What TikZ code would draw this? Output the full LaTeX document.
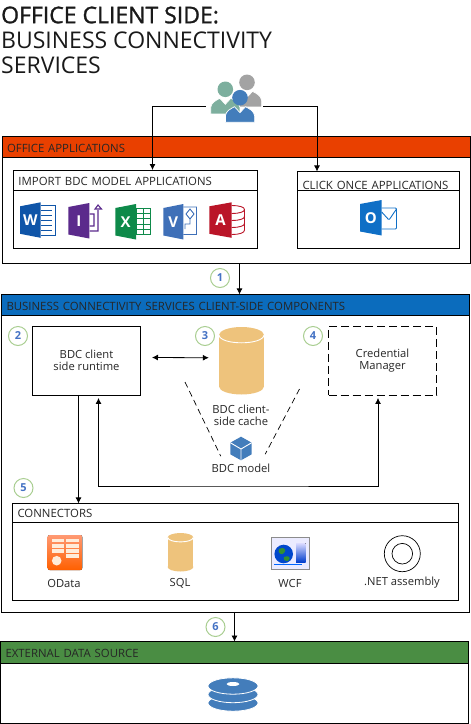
\documentclass[tikz,border=0pt]{standalone}
\usepackage{fontspec}
\setmainfont{Open Sans}
\newfontfamily\titleSemi[FakeBold=1.2]{Open Sans}
\usetikzlibrary{arrows.meta}
\definecolor{officeRed}{HTML}{E94000}
\definecolor{bcsBlue}{HTML}{0B6CBD}
\definecolor{sourceGreen}{HTML}{4A8D43}
\definecolor{cacheTan}{HTML}{EEC37C}
\definecolor{diskBlue}{HTML}{437DBB}
\definecolor{stepGreen}{HTML}{A9CE91}
\definecolor{stepBlue}{HTML}{4472C4}
\definecolor{peopleGreen}{HTML}{7DAF9E}
\definecolor{peopleGrey}{HTML}{A3A3A3}
\definecolor{wordBlue}{HTML}{0F55A8}
\definecolor{infoPurple}{HTML}{5B2A8C}
\definecolor{excelGreen}{HTML}{0E8A4A}
\definecolor{visioBlue}{HTML}{3F70B8}
\definecolor{accessRed}{HTML}{BA1528}
\definecolor{outlookBlue}{HTML}{0F6FC6}
\begin{document}
\begin{tikzpicture}
[x=1pt,y=-1pt,%
  panelDecorate/.style={shape=rectangle,draw,line width=0.9pt,inner sep=0pt,outer sep=0pt},%
  headDecorate/.style={panelDecorate,inner xsep=5pt,align=left,text=black!85,text depth=0pt,font=\fontsize{11.4}{13}\selectfont},%
  textDecorate/.style={align=center,inner sep=0pt,text=black!85,font=\fontsize{11.2}{12}\selectfont},%
  stepDecorate/.style={shape=circle,draw=stepGreen,line width=1pt,fill=white,inner sep=0pt,minimum size=19pt,text=stepBlue,font=\bfseries\fontsize{11}{11}\selectfont},%
  lineDecorate/.style={-{Latex[length=6pt,width=6pt]},line width=0.8pt},%
  tileDecorate/.style={inner sep=0pt,text=white,font=\bfseries\fontsize{15}{15}\selectfont}]
\useasboundingbox (0,0) rectangle (471,724);
%% title
\node (title) at (1,40) [anchor=west,align=left,inner sep=0pt,text=black!90,font=\fontsize{23}{25}\selectfont]
  {{\titleSemi OFFICE CLIENT SIDE:}\\BUSINESS CONNECTIVITY\\SERVICES};
%% panels and boxes
\foreach \nodename/\x/\y/\w/\h/\lab in {
  office/236/200/468/126.5/,
  import/135.5/209/244/78/,
  click/378.5/209.7/162/76.5/,
  bcs/235.5/453.2/468/317.5/,
  runtime/86.5/360.7/108/68.5/{BDC client\\side runtime},
  connectors/235.5/551.7/446/96.5/,
  external/234.5/682.3/468/81.5/}
{
  \node (\nodename) at (\x,\y) [panelDecorate,align=center,text=black!85,font=\fontsize{11.2}{12}\selectfont,minimum width=\w pt,minimum height=\h pt] {\lab};
}
\node (credential) at (382.5,360.7) [panelDecorate,dash pattern=on 8pt off 4pt,align=center,text=black!85,font=\fontsize{11.2}{12}\selectfont,minimum width=108pt,minimum height=68.5pt] {Credential\\Manager};
%% header strips
\foreach \nodename/\x/\y/\w/\h/\drop/\col/\lab in {
  officeHead/236/147/468/20.5/10/officeRed/OFFICE APPLICATIONS,
  importHead/135.5/180/244/20/10/white/IMPORT BDC MODEL APPLICATIONS,
  clickHead/378.5/181/162/19/16/white/CLICK ONCE APPLICATIONS,
  bcsHead/235.5/305/468/21/10.5/bcsBlue/BUSINESS CONNECTIVITY SERVICES CLIENT-SIDE COMPONENTS,
  connectorsHead/235.5/513/446/19/8/white/CONNECTORS,
  externalHead/234.5/652.7/468/22/10/sourceGreen/EXTERNAL DATA SOURCE}
{
  \node (\nodename) at (\x,\y) [headDecorate,fill=\col,text width=\w pt-10pt,text height=\drop pt,minimum height=\h pt] {\lab};
}
%% people
\node (people) at (234.5,106.5) [minimum width=57pt,minimum height=1pt,inner sep=0pt] {};
\foreach \px/\py/\col in {247/82.3/peopleGrey, 225.3/89.3/peopleGreen, 240/97.7/diskBlue}
{
  \fill[\col] (\px,\py) circle (7.8);
  \filldraw[\col,draw=white,line width=0.7pt] (\px-14.6,\py+24.6) -- (\px-14.6,\py+18) .. controls (\px-14,\py+13) and (\px-9,\py+11) .. (\px-5.5,\py+9) -- (\px,\py+15) -- (\px+5.5,\py+9) .. controls (\px+9,\py+11) and (\px+14,\py+13) .. (\px+14.6,\py+18) -- (\px+14.6,\py+24.6) -- cycle;
}
%% application tiles
\foreach \nodename/\x/\tw/\y/\col/\lab in {
  wordTile/20/20.7/202.3/wordBlue/W,
  infoTile/68.3/21/203/infoPurple/I,
  excelTile/115.3/20.7/204/excelGreen/X,
  visioTile/163.3/20/204/visioBlue/V,
  accessTile/209.3/22.4/202.3/accessRed/A,
  outlookTile/360/21.7/200/outlookBlue/O}
{
  \fill[\col] (\x,\y+4) -- (\x+\tw,\y) -- (\x+\tw,\y+35.5) -- (\x,\y+31.5) -- cycle;
  \node (\nodename) at (\x+\tw/2,\y+17.7) [tileDecorate] {\lab};
}
%% word page
\draw[wordBlue,line width=0.8pt] (40.7,205.5) -- (55.5,205.5) -- (55.5,235) -- (40.7,235);
\foreach \y in {210,215,220,225,230} {\draw[wordBlue,line width=0.8pt] (41,\y) -- (52,\y);}
%% infopath arrow
\draw[infoPurple,line width=1.1pt] (89.5,231) -- (98,231) -- (98,210) (89.5,214) -- (94,214) -- (94,226) -- (89.5,226) (95,209) -- (98,205) -- (101.5,209) -- cycle;
%% excel grid
\draw[excelGreen,line width=0.8pt] (136,208) rectangle (150.5,234);
\foreach \y in {213,218.5,224,229} {\draw[excelGreen,line width=0.8pt] (136,\y) -- (150.5,\y);}
\draw[excelGreen,line width=0.8pt] (143,208) -- (143,234);
%% visio page
\draw[visioBlue,line width=0.9pt] (183.3,207) -- (196.5,207) -- (196.5,234.5) -- (183.3,234.5) (190,209) -- (194,214) -- (190,219) -- (186,214) -- cycle (190,219) -- (190,224) -- (185,224) -- (185,229);
%% access drum
\draw[accessRed,line width=0.9pt] (231.7,205.5) .. controls (239,205.5) and (244.5,207) .. (244.5,209.5) -- (244.5,230) .. controls (244.5,233) and (239,234.5) .. (231.7,234.5);
\foreach \y in {209.5,216.5,223.5} {\draw[accessRed,line width=0.9pt] (244.5,\y) .. controls (244.5,\y+2.5) and (239,\y+4) .. (231.7,\y+4);}
%% outlook envelope
\draw[outlookBlue,line width=0.9pt,rounded corners=1pt] (381.7,208) -- (396.5,208) -- (396.5,229) -- (381.7,229) (381.7,212) -- (389,220) -- (396.5,209);
%% cylinders
\foreach \nodename/\x/\y/\rx/\ry/\h/\lab in {cache/241.5/335/22.5/8/51.5/, sqlIcon/180.5/537.5/12.8/4.5/29.5/}
{
  \fill[cacheTan] (\x-\rx,\y) rectangle (\x+\rx,\y+\h);
  \fill[cacheTan] (\x,\y) ellipse ({\rx} and {\ry});
  \fill[cacheTan] (\x,\y+\h) ellipse ({\rx} and {\ry});
  \draw[white,line width=0.9pt] (\x-\rx,\y) .. controls (\x-\rx+1,\y+\ry*1.3) and (\x+\rx-1,\y+\ry*1.3) .. (\x+\rx,\y);
  \node (\nodename) at (\x,\y+\h/2) [minimum width=2*\rx pt,minimum height=\h pt+2*\ry pt,inner sep=0pt] {};
}
%% model cube
\node (cube) at (241,449) [minimum width=21pt,minimum height=24pt,inner sep=0pt] {};
\fill[diskBlue] (241,436.7) -- (251.7,442.7) -- (251.7,454.3) -- (241,460.3) -- (230.3,454.3) -- (230.3,442.7) -- cycle;
\draw[white,line width=0.9pt] (230.3,442.7) -- (241,449) -- (251.7,442.7) (241,449) -- (241,460.3);
%% odata icon
\fill[rounded corners=2pt,top color=orange!55!red!55,bottom color=orange!75!red] (47.7,535) rectangle (82.3,570);
\foreach \y in {538.7,544,549} {\fill[white!85!orange] (51.7,\y) rectangle (64,\y+3.6); \fill[white!85!orange] (65.7,\y) rectangle (79,\y+3.6);}
\fill[white!85!orange] (65.7,554) rectangle (79,557.5);
\fill[white!85!orange] (56.7,560.7) circle (4.8);
%% wcf icon
\draw[black!45,fill=blue!8,line width=0.8pt] (271,537.3) rectangle (309,569);
\fill[top color=white!50!blue!30,bottom color=blue!70!cyan!80!black] (296,543.3) rectangle (305.7,562.3);
\fill[blue!65!cyan!80!black] (283.7,554) circle (9.3);
\fill[green!45!black!80] (279,549) .. controls (284,546) and (287,550) .. (284,553) .. controls (282,556) and (277,553) .. (279,549) (284,557) .. controls (288,555) and (292,557) .. (288,561) .. controls (286,562) and (283,560) .. (284,557);
\draw[blue!60!cyan,line width=0.7pt] (274,564.3) -- (302,564.3);
%% assembly icon
\node (assembly) at (402.3,553.7) [shape=circle,draw,line width=0.7pt,inner sep=0pt,minimum size=36pt] {};
\node (assemblyCore) at (402.3,553.7) [shape=circle,draw,line width=0.7pt,inner sep=0pt,minimum size=20.6pt] {};
%% disks
\foreach \y in {703,694.5,686}
{
  \filldraw[diskBlue,draw=white,line width=0.8pt] (233,\y) ellipse (25 and 8.2);
}
\fill[white] (233,684) ellipse (6.5 and 2);
%% labels
\foreach \nodename/\x/\y/\lab in {
  cacheText/241/415/{BDC client-\\side cache},
  modelText/241/468/BDC model,
  odataText/64/583/OData,
  sqlText/180/583/SQL,
  wcfText/290/583/WCF,
  netText/402/583/.NET assembly}
{
  \node (\nodename) at (\x,\y) [textDecorate] {\lab};
}
%% free ends
\foreach \nodename/\x/\y in {dashLeft/185/382, dashRight/299.5/389, loopBase/240/486}
{
  \coordinate (\nodename) at (\x,\y);
}
%% connectors
\draw[lineDecorate] (people.west) -| ([xshift=17pt]import.north);
\draw[lineDecorate] (people.east) -| ([xshift=-61.5pt]click.north);
\draw[lineDecorate] ([xshift=3.5pt]office.south) -- ([xshift=4pt]bcs.north);
\draw[lineDecorate,{Latex[length=6pt,width=6pt]}-{Latex[length=6pt,width=6pt]}] ([xshift=11.5pt,yshift=3.2pt]runtime.east) -- ([xshift=-10pt,yshift=3pt]cache.west);
\draw[lineDecorate] ([xshift=-8pt]runtime.south) -- ([xshift=-8pt]runtime.south |- connectors.north);
\draw[lineDecorate,{Latex[length=6pt,width=6pt]}-{Latex[length=6pt,width=6pt]}] ([xshift=12pt,yshift=-3pt]runtime.south) |- (loopBase) -| ([xshift=-4.5pt,yshift=-3pt]credential.south);
\draw[lineDecorate] ([xshift=-1pt]bcs.south) -- (external.north);
\draw[line width=0.7pt,dash pattern=on 6pt off 4pt] (dashLeft) -- ([xshift=-9.5pt,yshift=5pt]cube.south west);
\draw[line width=0.7pt,dash pattern=on 6pt off 4pt] (dashRight) -- ([xshift=13.5pt,yshift=7pt]cube.south east);
%% numbers
\foreach \nodename/\x/\y/\lab in {
  stepOne/220/278/1, stepTwo/18/336/2, stepThree/205/336/3,
  stepFour/313/336/4, stepFive/23.5/488/5, stepSix/215.5/627/6}
{
  \node (\nodename) at (\x,\y) [stepDecorate] {\lab};
}
\end{tikzpicture}
\end{document}
